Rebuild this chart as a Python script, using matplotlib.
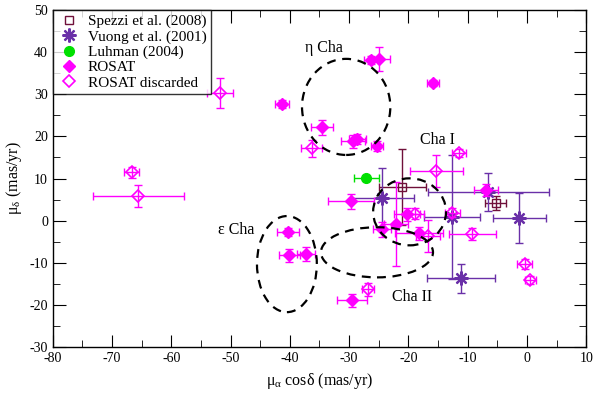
import numpy as np
import matplotlib
matplotlib.use('Agg')
import matplotlib.pyplot as plt
from matplotlib.patches import Ellipse
from matplotlib.ticker import MultipleLocator

plt.rcParams['font.family'] = ['Liberation Serif', 'DejaVu Serif']
plt.rcParams['mathtext.fontset'] = 'custom'
plt.rcParams['mathtext.rm'] = 'Liberation Serif'
plt.rcParams['mathtext.it'] = 'Liberation Serif'
plt.rcParams['axes.unicode_minus'] = False

# Spezzi et al. (2008)
spezzi_x = [-21.0, -5.3]
spezzi_y = [8.0, 4.2]
spezzi_xerr = [4.0, 1.8]
spezzi_yerr = [9.0, 1.6]

# Vuong et al. (2001)
vuong_x = [-24.4, -12.7, -11.1, -6.5, -1.3]
vuong_y = [5.5, 0.8, -13.7, 6.8, 0.6]
vuong_xerr = [5.3, 4.7, 5.7, 10.2, 4.5]
vuong_yerr = [7.0, 14.7, 3.4, 4.5, 5.9]

# Luhman (2004)
luhman_x = [-27.1]
luhman_y = [10.1]
luhman_xerr = [2.1]

# ROSAT
rosat_x = [-26.3, -24.9, -15.8, -41.3, -34.6, -29.4, -28.6, -25.3, -29.7,
           -20.2, -22.1, -24.4, -18.2, -40.3, -40.1, -37.3, -29.5, -6.9]
rosat_y = [38.1, 38.4, 32.7, 27.7, 22.2, 18.8, 19.3, 17.7, 4.6,
           1.5, -0.8, -2.0, -3.0, -2.7, -8.2, -7.9, -18.9, 7.3]
rosat_xerr = [1.2, 1.8, 1.0, 1.2, 1.8, 2.0, 1.5, 1.0, 3.9,
              2.2, 2.0, 1.5, 4.0, 1.8, 1.8, 1.5, 2.5, 2.0]
rosat_yerr = [1.0, 2.8, 0.8, 1.0, 1.8, 1.5, 1.2, 1.2, 1.8,
              1.5, 9.9, 1.8, 1.5, 1.0, 1.5, 1.6, 1.6, 1.5]

# ROSAT discarded
disc_x = [-66.7, -65.6, -51.8, -36.3, -18.9, -15.3, -11.4, -9.2, -16.7,
          -0.4, 0.6, -26.8, -12.6]
disc_y = [11.5, 5.8, 30.3, 17.2, 1.6, 11.8, 16.0, -3.2, -3.7,
          -10.3, -14.1, -16.3, 1.9]
disc_xerr = [1.3, 7.7, 2.2, 1.8, 1.5, 4.5, 1.2, 4.0, 2.0, 1.2, 1.0, 1.0, 1.3]
disc_yerr = [1.3, 2.6, 3.5, 2.0, 1.3, 3.8, 1.0, 1.4, 3.8, 1.2, 1.0, 1.5, 1.0]

# regions: name, centre x, centre y, width, height, label x, label y
regions = [
    ('\u03b7 Cha', -30.5, 27.0, 14.9, 22.8, -34.3, 41.0),
    ('Cha I', -19.8, 2.1, 12.3, 15.9, -15.1, 19.1),
    ('Cha II', -25.3, -7.5, 18.9, 11.9, -19.4, -18.2),
    ('\u03b5 Cha', -40.5, -10.3, 10.1, 22.8, -49.1, -2.3),
]

fig = plt.figure(figsize=(6, 3.99), dpi=100)
ax = fig.add_axes([0.088, 0.130, 0.889, 0.845])

magenta = '#ff00ff'
purple = '#6a30a8'
maroon = '#70103a'

# error bars first, markers on top
ax.errorbar(spezzi_x, spezzi_y, xerr=spezzi_xerr, yerr=spezzi_yerr, fmt='none',
            ecolor=maroon, elinewidth=1.0, capsize=3, zorder=3)
ax.errorbar(vuong_x, vuong_y, xerr=vuong_xerr, yerr=vuong_yerr, fmt='none',
            ecolor=purple, elinewidth=1.0, capsize=3, zorder=3)
ax.errorbar(luhman_x, luhman_y, xerr=luhman_xerr, fmt='none',
            ecolor='#00e000', elinewidth=1.0, capsize=3, zorder=3)
ax.errorbar(rosat_x, rosat_y, xerr=rosat_xerr, yerr=rosat_yerr, fmt='none',
            ecolor=magenta, elinewidth=1.0, capsize=3, zorder=4)
ax.errorbar(disc_x, disc_y, xerr=disc_xerr, yerr=disc_yerr, fmt='none',
            ecolor=magenta, elinewidth=1.0, capsize=3, zorder=4)

ax.plot(spezzi_x, spezzi_y, ls='none', marker='s', mfc='none', mec=maroon,
        ms=6, mew=1.0, label='Spezzi et al. (2008)', zorder=3)
ax.plot(vuong_x, vuong_y, ls='none', marker=(8, 2, 0), color=purple,
        ms=10, mew=1.6, label='Vuong et al. (2001)', zorder=3)
ax.plot(luhman_x, luhman_y, ls='none', marker='o', color='#00e000', ms=7,
        label='Luhman (2004)', zorder=3)
ax.plot(rosat_x, rosat_y, ls='none', marker='D', color=magenta, ms=6,
        label='ROSAT', zorder=4)
ax.plot(disc_x, disc_y, ls='none', marker='D', mfc='none', mec=magenta,
        ms=6, mew=1.2, label='ROSAT discarded', zorder=4)

for name, cx, cy, w, h, lx, ly in regions:
    ax.add_patch(Ellipse((cx, cy), w, h, fill=False, ls=(0, (4, 3)),
                         lw=1.6, ec='black', zorder=5))
    ax.text(lx, ly, name, fontsize=11.5, ha='center', va='center')

ax.set_xlim(-80, 10)
ax.set_ylim(-30, 50)
ax.xaxis.set_major_locator(MultipleLocator(10))
ax.xaxis.set_minor_locator(MultipleLocator(5))
ax.yaxis.set_major_locator(MultipleLocator(10))
ax.yaxis.set_minor_locator(MultipleLocator(5))
ax.tick_params(which='both', direction='in', top=True, right=True,
               labelsize=10)
ax.tick_params(which='major', length=9)
ax.tick_params(which='minor', length=5)
for s in ax.spines.values():
    s.set_linewidth(1.0)

ax.set_xlabel('$\\mu_{\\alpha}$ cos$\\delta$ (mas/yr)', fontsize=11.5)
ax.set_ylabel('$\\mu_{\\delta}$ (mas/yr)', fontsize=11.5)

leg = ax.legend(loc='upper left', borderaxespad=0, fancybox=False,
                fontsize=11, handletextpad=0.5, borderpad=0.3,
                labelspacing=0.1, handlelength=1.5)
leg.get_frame().set_edgecolor('black')
leg.get_frame().set_linewidth(1.0)

fig.savefig('out.png', dpi=100)
